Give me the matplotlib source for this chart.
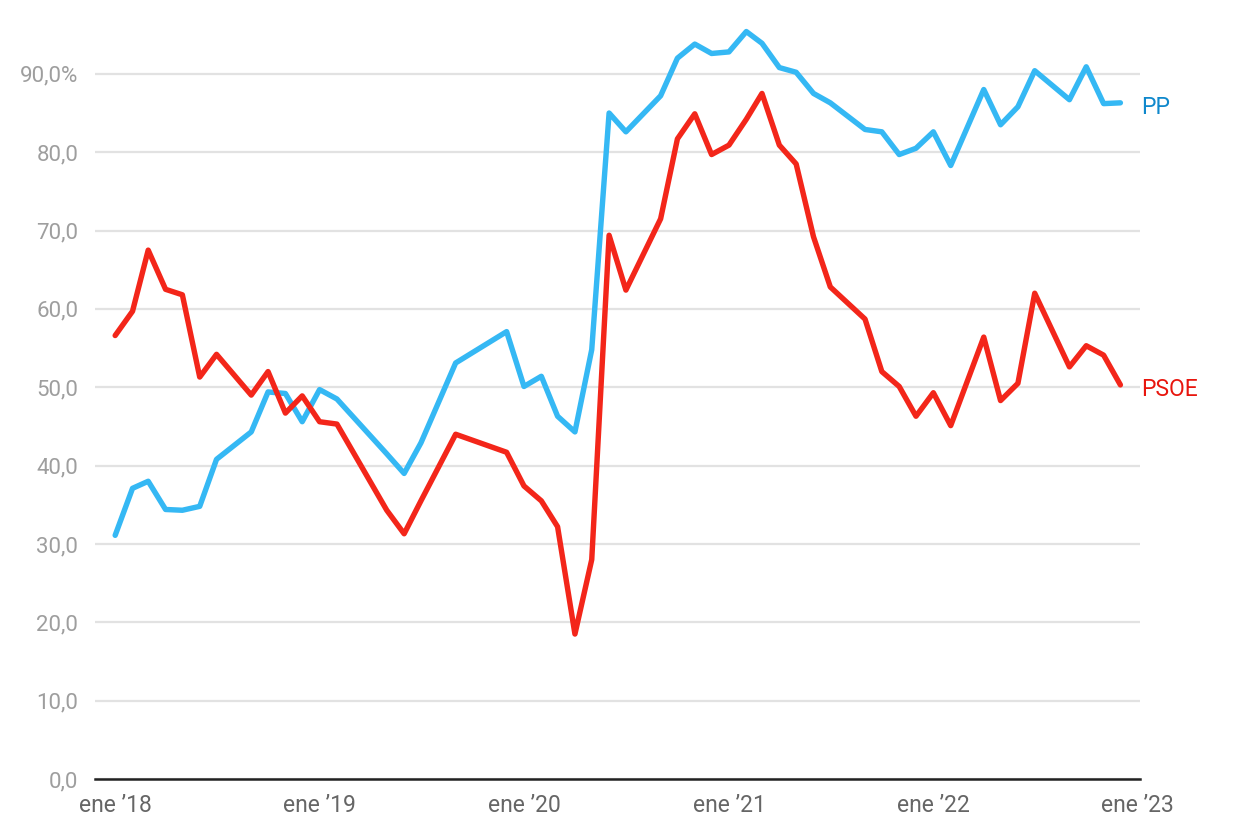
import numpy as np
import pandas as pd
import matplotlib
matplotlib.use('Agg')
import matplotlib.pyplot as plt

plt.rcParams['font.family'] = ['Roboto', 'DejaVu Sans']

# months since Jan 2018
months = [0, 1, 2, 3, 4, 5, 6, 8, 9, 10, 11, 12, 13, 16, 17, 18, 20, 23, 24, 25,
          26, 27, 28, 29, 30, 32, 33, 34, 35, 36, 37, 38, 39, 40, 41, 42, 44, 45, 46, 47,
          48, 49, 51, 52, 53, 54, 56, 57, 58, 59]

pp = [31.1, 37.1, 38.0, 34.4, 34.3, 34.8, 40.8, 44.3, 49.4, 49.2, 45.6, 49.7, 48.5, 41.5, 39.0, 42.9, 53.1, 57.1, 50.1, 51.4,
      46.3, 44.3, 54.8, 85.0, 82.6, 87.2, 92.0, 93.8, 92.6, 92.8, 95.4, 93.9, 90.8, 90.2, 87.5, 86.3, 82.9, 82.6, 79.7, 80.5,
      82.6, 78.3, 88.0, 83.5, 85.8, 90.4, 86.7, 90.9, 86.2, 86.3]

psoe = [56.6, 59.7, 67.5, 62.5, 61.8, 51.3, 54.2, 49.0, 52.0, 46.7, 48.9, 45.6, 45.3, 34.3, 31.3, 35.5, 44.0, 41.7, 37.4, 35.5,
        32.2, 18.5, 28.0, 69.4, 62.4, 71.5, 81.7, 84.9, 79.7, 80.9, 84.2, 87.5, 80.9, 78.5, 69.2, 62.8, 58.7, 52.0, 50.1, 46.3,
        49.3, 45.1, 56.4, 48.3, 50.5, 62.0, 52.6, 55.3, 54.1, 50.3]

dates = [pd.Timestamp(2018 + m // 12, m % 12 + 1, 1) for m in months]

tick_years = [2018, 2019, 2020, 2021, 2022, 2023]
tick_labels = ['ene \u201918', 'ene \u201919', 'ene \u201920', 'ene \u201921', 'ene \u201922', 'ene \u201923']
yticks = [0, 10, 20, 30, 40, 50, 60, 70, 80, 90]

blue = '#35b8f4'
red = '#f3261a'

fig = plt.figure(figsize=(12.4, 8.4), dpi=100)
ax = fig.add_axes([95 / 1240, 61 / 840, (1140 - 95) / 1240, (779 - 19) / 840])

ax.plot(dates, pp, color=blue, lw=3.9, solid_joinstyle='round', solid_capstyle='round', zorder=3)
ax.plot(dates, psoe, color=red, lw=3.9, solid_joinstyle='round', solid_capstyle='round', zorder=3)

ax.set_ylim(0, 97)
ax.set_xlim(pd.Timestamp(2017, 11, 26), pd.Timestamp(2023, 1, 5))

ax.set_yticks(yticks)
ax.set_yticklabels([('%.1f' % v).replace('.', ',') + ('%' if v == 90 else '') for v in yticks])
ax.set_xticks([pd.Timestamp(y, 1, 1) for y in tick_years])
ax.set_xticklabels(tick_labels)

ax.tick_params(axis='y', length=0, pad=12, labelsize=16, labelcolor='#9e9e9e')
ax.tick_params(axis='x', length=0, pad=11, labelsize=16.5, labelcolor='#666666')

ax.grid(axis='y', color='#e2e2e2', lw=1.6, zorder=0)
ax.grid(axis='x', visible=False)
for s in ['top', 'right', 'left']:
    ax.spines[s].set_visible(False)
ax.spines['bottom'].set_color('#222222')
ax.spines['bottom'].set_linewidth(1.8)
ax.spines['bottom'].set_zorder(4)

end = pd.Timestamp(2023, 1, 5)
ax.annotate('PP', (end, pp[-1]), xytext=(1, -3), textcoords='offset points',
            color='#0f88cc', fontsize=16.5, va='center', ha='left', annotation_clip=False)
ax.annotate('PSOE', (end, psoe[-1]), xytext=(1, -3), textcoords='offset points',
            color='#e8160e', fontsize=16.5, va='center', ha='left', annotation_clip=False)

fig.savefig('out.png', dpi=100, facecolor='white')
